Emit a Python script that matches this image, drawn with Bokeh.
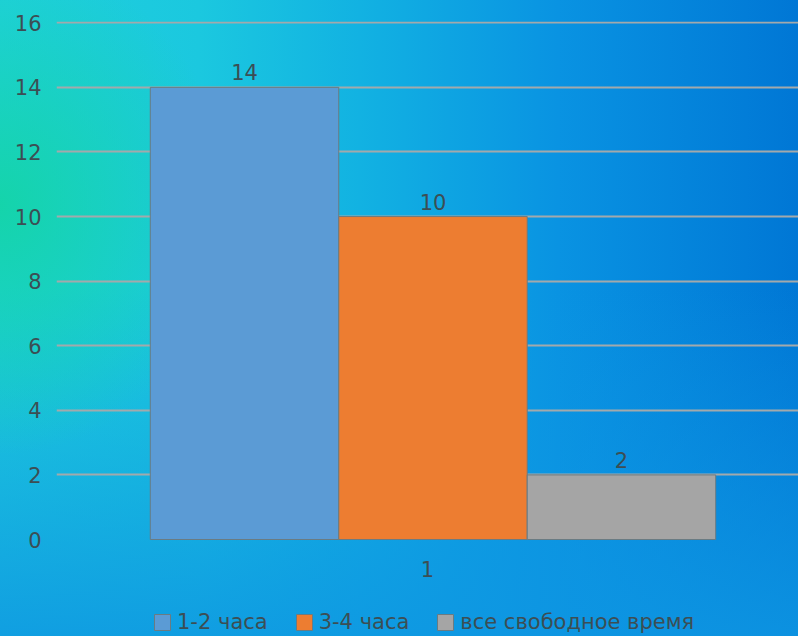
from bokeh.plotting import figure
from bokeh.models import (ColumnDataSource, FactorRange, Range1d, FixedTicker,
                          Legend, LegendItem)
from bokeh.transform import dodge
from bokeh.core.properties import value
from bokeh.embed import file_html
from bokeh.resources import INLINE

# ---- data ----
categories = ["1"]
series_names = ["1-2 часа", "3-4 часа", "все свободное время"]
series_values = [14, 10, 2]
series_colors = ["#5B9BD5", "#ED7D31", "#A5A5A5"]
y_ticks = [0, 2, 4, 6, 8, 10, 12, 14, 16]

FONT = "DejaVu Sans"
TXT = "#3c4e54"
FS = "21px"

# layout: value area 518 px tall, plus 97 px below the zero line for labels/legend
PLOT_H, BELOW_H, TOP_H = 518, 97, 21
y_top = 16.04
y_bottom = -BELOW_H * y_top / PLOT_H

p = figure(width=798, height=636,
           x_range=FactorRange(factors=categories, range_padding=0),
           y_range=Range1d(y_bottom, y_top), output_backend="svg", toolbar_location=None,
           min_border_left=56, min_border_right=0, min_border_top=TOP_H, min_border_bottom=0)
p.background_fill_alpha = 0
p.border_fill_alpha = 0
p.outline_line_color = None
p.styles = {
    "background": (
        "radial-gradient(ellipse 230px 250px at 0px 205px, rgba(20,212,168,0.95) 0%, rgba(20,212,168,0) 100%),"
        "linear-gradient(to bottom, rgba(14,150,226,0) 45%, rgba(14,150,226,0.85) 100%),"
        "linear-gradient(to right, #1fd0dc 0%, #1bc8df 25%, #12b2e2 45%, #0993e2 70%, #0077d5 100%)"
    )
}

width = 0.254
offsets = [-width + 0.0074, 0.0074, width + 0.0074]
items = []
for name, val, col, off in zip(series_names, series_values, series_colors, offsets):
    src = ColumnDataSource(dict(x=categories, top=[val], lab=[str(val)]))
    r = p.vbar(x=dodge("x", off, range=p.x_range), top="top", bottom=0, width=width,
               source=src, fill_color=col, line_color="#6a7b82", line_width=1)
    p.text(x=dodge("x", off, range=p.x_range), y="top", text="lab", source=src,
           text_align="center", text_baseline="bottom", y_offset=-7,
           text_font=value(FONT), text_font_size=FS, text_color=TXT)
    items.append(LegendItem(label=name, renderers=[r]))

# axes
p.yaxis.ticker = FixedTicker(ticks=y_ticks)
p.ygrid.ticker = FixedTicker(ticks=y_ticks[1:])
p.ygrid.grid_line_color = "#a3a9ab"
p.ygrid.grid_line_width = 2
p.xgrid.grid_line_color = None
for ax in (p.xaxis, p.yaxis):
    ax.axis_line_color = None
    ax.major_tick_line_color = None
    ax.minor_tick_line_color = None
    ax.major_label_text_font = FONT
    ax.major_label_text_font_size = FS
    ax.major_label_text_color = TXT
p.yaxis.major_label_standoff = 9
p.xaxis.fixed_location = 0
p.xaxis.major_label_standoff = 15

legend = Legend(items=items, orientation="horizontal", location=(96, 2),
                label_text_font=FONT, label_text_font_size=FS, label_text_color=TXT,
                glyph_width=20, glyph_height=20, label_standoff=5, spacing=26,
                background_fill_alpha=0, border_line_color=None, margin=0, padding=0)
p.add_layout(legend)

open("out.html", "w").write(file_html(p, INLINE))
